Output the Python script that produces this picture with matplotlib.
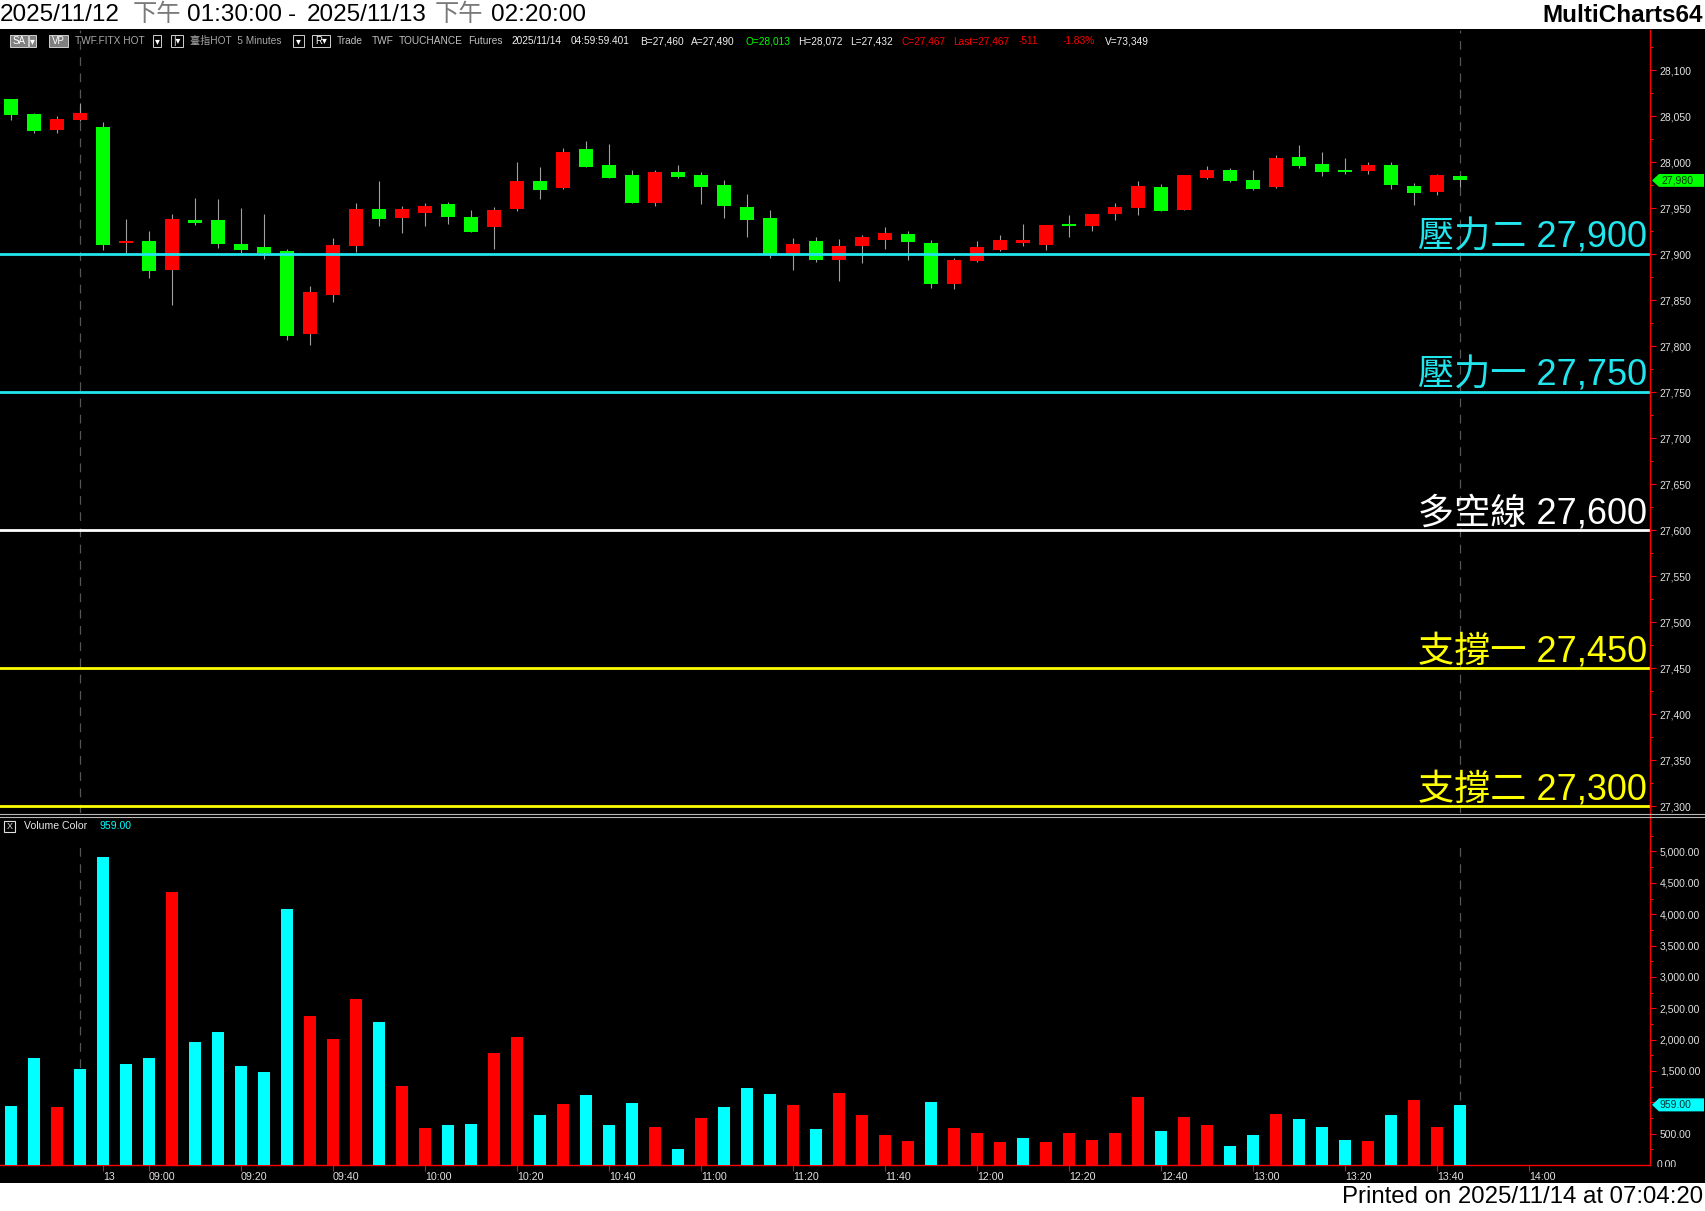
import numpy as np
import matplotlib
matplotlib.use('Agg')
import matplotlib.pyplot as plt
from matplotlib.patches import Rectangle, Polygon
from matplotlib.lines import Line2D
from matplotlib.transforms import blended_transform_factory

plt.rcParams['font.family'] = ['Liberation Sans', 'Noto Sans CJK TC', 'DejaVu Sans']

# ---- data (5 minute bars, 11/12 13:30 .. 11/13 13:45) ----
opens = [28068, 28052, 28035, 28046, 28038, 27912, 27914, 27883, 27937, 27937,
         27911, 27908, 27903, 27813, 27855, 27909, 27949, 27939, 27945, 27954,
         27940, 27929, 27949, 27979, 27972, 28014, 27997, 27986, 27955, 27989,
         27986, 27975, 27951, 27939, 27900, 27914, 27894, 27909, 27915, 27922,
         27912, 27867, 27892, 27904, 27912, 27910, 27933, 27930, 27944, 27950,
         27973, 27948, 27983, 27991, 27980, 27973, 28005, 27998, 27991, 27990,
         27997, 27974, 27967, 27985]
highs = [28068, 28053, 28050, 28064, 28044, 27938, 27925, 27944, 27961, 27960,
         27950, 27944, 27905, 27865, 27917, 27955, 27979, 27952, 27955, 27957,
         27948, 27951, 28000, 27995, 28015, 28023, 28020, 27991, 27991, 27997,
         27989, 27980, 27965, 27948, 27917, 27919, 27916, 27921, 27929, 27925,
         27915, 27896, 27914, 27921, 27933, 27932, 27942, 27944, 27955, 27979,
         27976, 27986, 27996, 27994, 27991, 28008, 28019, 28011, 28004, 28000,
         28000, 27977, 27987, 27986]
lows = [28046, 28031, 28032, 28045, 27904, 27901, 27874, 27845, 27931, 27906,
        27901, 27895, 27807, 27801, 27848, 27902, 27930, 27923, 27930, 27933,
        27924, 27905, 27947, 27960, 27971, 27995, 27983, 27955, 27952, 27983,
        27954, 27939, 27919, 27896, 27883, 27891, 27871, 27890, 27905, 27894,
        27863, 27862, 27891, 27903, 27909, 27904, 27919, 27925, 27937, 27942,
        27947, 27948, 27982, 27978, 27970, 27972, 27994, 27985, 27987, 27987,
        27971, 27953, 27964, 27973]
closes = [28051, 28034, 28047, 28053, 27910, 27914, 27882, 27938, 27934, 27911,
          27904, 27901, 27811, 27859, 27910, 27949, 27938, 27949, 27952, 27940,
          27924, 27948, 27979, 27970, 28011, 27995, 27983, 27955, 27989, 27984,
          27973, 27952, 27937, 27900, 27911, 27894, 27909, 27919, 27923, 27913,
          27867, 27894, 27908, 27915, 27915, 27932, 27930, 27944, 27951, 27974,
          27947, 27986, 27991, 27979, 27971, 28004, 27996, 27989, 27990, 27997,
          27975, 27966, 27986, 27980]
volumes = [940, 1705, 925, 1530, 4905, 1610, 1705, 4355, 1965, 2120,
           1580, 1485, 4085, 2380, 2010, 2650, 2280, 1260, 590, 640,
           655, 1785, 2045, 800, 970, 1115, 640, 990, 605, 255,
           750, 925, 1230, 1135, 955, 570, 1145, 795, 475, 380,
           1000, 585, 505, 360, 425, 360, 505, 395, 505, 1080,
           535, 760, 635, 300, 475, 810, 730, 600, 395, 380,
           795, 1030, 600, 959]
# 1 = red volume bar, 0 = cyan volume bar
vol_red = [0, 0, 1, 0, 0, 0, 0, 1, 0, 0, 0, 0, 0, 1, 1, 1, 0, 1, 1, 0,
           0, 1, 1, 0, 1, 0, 0, 0, 1, 0, 1, 0, 0, 0, 1, 0, 1, 1, 1, 1,
           0, 1, 1, 1, 0, 1, 1, 1, 1, 1, 0, 1, 1, 0, 0, 1, 0, 0, 0, 1,
           0, 1, 1, 0]

levels = [27900, 27750, 27600, 27450, 27300]
level_names = ['壓力二', '壓力一', '多空線', '支撐一', '支撐二']
level_colors = ['#22E6EE', '#22E6EE', '#FFFFFF', '#FFFF00', '#FFFF00']

tick_idx = [4, 6, 10, 14, 18, 22, 26, 30, 34, 38, 42, 46, 50, 54, 58, 62, 66]
tick_labels = ['13', '09:00', '09:20', '09:40', '10:00', '10:20', '10:40', '11:00', '11:20',
               '11:40', '12:00', '12:20', '12:40', '13:00', '13:20', '13:40', '14:00']
session_marks = [3, 63]
last_price = 27980
last_volume = 959

W, H = 1705, 1211


def fx(x):
    return x / W


def fy(y):
    return 1 - y / H


fig = plt.figure(figsize=(W / 100, H / 100), dpi=100, facecolor='black')
ax = fig.add_axes([0, fy(813), fx(1650), (813 - 30) / H])
axv = fig.add_axes([0, fy(1165), fx(1650), (1165 - 817) / H])

x = np.arange(len(opens))
o = np.array(opens, float)
c = np.array(closes, float)
hi = np.array(highs, float)
lo = np.array(lows, float)

for a in (ax, axv):
    a.set_facecolor('black')
    a.set_xlim(-0.478, 71.26)
    for s in a.spines.values():
        s.set_visible(False)

# ---- candles ----
ax.set_ylim(27292.4, 28143.5)
ax.vlines(x, lo, hi, color='#A0A0A0', lw=0.8, zorder=2)
body_h = np.maximum(np.abs(c - o), 2.5)
body_b = (o + c) / 2 - body_h / 2
body_col = np.where(c > o, '#FF0000', '#00FF00')
ax.bar(x, body_h, bottom=body_b, width=0.57, color=body_col, linewidth=0, zorder=3)

for xm in session_marks:
    ax.axvline(xm, color='#555555', lw=0.9, ls=(0, (7, 6)), zorder=1)

trans_lbl = blended_transform_factory(ax.transAxes, ax.transData)
for lv, name, col in zip(levels, level_names, level_colors):
    ax.axhline(lv, color=col, lw=2.0, zorder=4)
    ax.text(1647 / 1650, lv + 7.6, f'{name} {lv:,}', transform=trans_lbl, ha='right',
            va='baseline', color=col, fontsize=26, zorder=5)

ax.set_xticks([])
ax.yaxis.tick_right()
ax.set_yticks(np.arange(27300, 28101, 50))
ax.set_yticklabels([f'{v:,}' for v in range(27300, 28101, 50)])
ax.set_yticks(np.arange(27300, 28126, 25), minor=True)
ax.tick_params(axis='y', which='major', colors='#FF0000', labelcolor='#E0E0E0',
               length=4, width=0.8, pad=3, labelsize=7.5)
ax.tick_params(axis='y', which='minor', colors='#FF0000', length=2, width=0.8)

# ---- volume ----
axv.set_ylim(0, 5550)
vcol = ['#FF0000' if r else '#00FFFF' for r in vol_red]
axv.bar(x, volumes, width=0.48, color=vcol, linewidth=0, zorder=3)
for xm in session_marks:
    axv.axvline(xm, ymax=0.93, color='#555555', lw=0.9, ls=(0, (7, 6)), zorder=1)
axv.spines['bottom'].set_visible(True)
axv.spines['bottom'].set_color('#FF0000')
axv.spines['bottom'].set_linewidth(1.0)
axv.yaxis.tick_right()
vt = list(range(500, 5001, 500))
axv.set_yticks(vt)
# the 1,000 label sits under the last-volume marker, as in the reference
axv.set_yticklabels(['' if v == 1000 else f'{v:,.2f}' for v in vt])
axv.set_yticks(np.arange(250, 5300, 250), minor=True)
axv.tick_params(axis='y', which='major', colors='#FF0000', labelcolor='#E0E0E0',
                length=4, width=0.8, pad=3, labelsize=7.5)
axv.tick_params(axis='y', which='minor', colors='#FF0000', length=2, width=0.8)
axv.set_xticks(tick_idx)
axv.set_xticklabels(tick_labels, ha='left')
axv.tick_params(axis='x', colors='#FF0000', labelcolor='#E0E0E0', length=4, width=0.8,
                pad=1, labelsize=7.7)

# "0.00" label, cut in half by the bottom strip
fig.text(fx(1657), fy(1165), '0.00', color='#E0E0E0', fontsize=7.5, va='center')
fig.add_artist(Rectangle((fx(1651), fy(1183)), (W - 1651) / W, (1183 - 1167) / H,
                         transform=fig.transFigure, facecolor='black', edgecolor='none', zorder=4))

# axis line + panel separator
fig.add_artist(Line2D([fx(1650), fx(1650)], [fy(30), fy(1165)], color='#FF0000', lw=1.0))
for ys in (814, 817):
    fig.add_artist(Line2D([0, 1], [fy(ys), fy(ys)], color='#B8B8B8', lw=0.8))

# last value markers
tp = blended_transform_factory(fig.transFigure, ax.transData)
fig.add_artist(Polygon([(fx(1652), last_price), (fx(1659), last_price + 7), (fx(1704), last_price + 7),
                        (fx(1704), last_price - 7), (fx(1659), last_price - 7)],
                       closed=True, transform=tp, facecolor='#00FF00', edgecolor='none'))
fig.text(fx(1661), last_price, f'{last_price:,}', transform=tp, color='#003300', fontsize=7.5,
         va='center')
tv = blended_transform_factory(fig.transFigure, axv.transData)
fig.add_artist(Polygon([(fx(1652), last_volume), (fx(1659), last_volume + 104), (fx(1704), last_volume + 104),
                        (fx(1704), last_volume - 104), (fx(1659), last_volume - 104)],
                       closed=True, transform=tv, facecolor='#00FFFF', edgecolor='none'))
fig.text(fx(1660), last_volume, f'{last_volume:.2f}', transform=tv, color='#003333',
         fontsize=7.5, va='center')

# volume header
fig.add_artist(Rectangle((fx(4), fy(832)), 11 / W, 11 / H, transform=fig.transFigure,
                         facecolor='black', edgecolor='#E0E0E0', lw=0.8))
fig.text(fx(9.5), fy(826.5), 'X', color='#E0E0E0', fontsize=6.5, ha='center', va='center')
fig.text(fx(24), fy(826), 'Volume Color', color='#E8E8E8', fontsize=7.6, va='center')
fig.text(fx(100), fy(826), f'{last_volume:.2f}', color='#00FFFF', fontsize=7.6, va='center')

# ---- header / footer bands ----
fig.add_artist(Rectangle((0, fy(29)), 1, 29 / H, transform=fig.transFigure,
                         facecolor='white', edgecolor='none', zorder=0.5))
fig.add_artist(Rectangle((0, 0), 1, (H - 1183) / H, transform=fig.transFigure,
                         facecolor='white', edgecolor='none', zorder=4.5))
for xp, s, col in [(0, '2025/11/12', 'black'), (133, '下午', '#7A7A7A'), (187, '01:30:00', 'black'),
                   (288, '-', 'black'), (307, '2025/11/13', 'black'), (435, '下午', '#7A7A7A'),
                   (491, '02:20:00', 'black')]:
    fig.text(fx(xp), fy(15), s, color=col, fontsize=17.5, va='center')
fig.text(fx(1703), fy(15), 'MultiCharts64', color='black', fontsize=17.5, fontweight='bold',
         ha='right', va='center')
fig.text(fx(1703), fy(1197), 'Printed on 2025/11/14 at 07:04:20', color='black', fontsize=17.3,
         ha='right', va='center', zorder=5)

# ---- info bar ----
for x0, x1, face, s in [(10, 28, '#7F7F7F', 'SA'), (29, 36, '#7F7F7F', '▾'), (49, 68, '#7F7F7F', 'VP'),
                        (153, 161, 'black', '▾'), (171, 183, 'black', '|▾'), (293, 304, 'black', '▾'),
                        (312, 330, 'black', 'R▾')]:
    fig.add_artist(Rectangle((fx(x0), fy(47)), (x1 - x0) / W, 12 / H, transform=fig.transFigure,
                             facecolor=face, edgecolor='#D0D0D0', lw=0.7))
    fig.text(fx((x0 + x1) / 2), fy(41), s, color='white', fontsize=7, ha='center', va='center')
for xp, s, col in [(75, 'TWF.FITX HOT', '#A8A8A8'), (190, '臺指HOT  5 Minutes', '#A8A8A8'),
                   (337, 'Trade', '#C0C0C0'), (372, 'TWF', '#C0C0C0'), (399, 'TOUCHANCE', '#C0C0C0'),
                   (468, 'Futures', '#C0C0C0'), (511, '2025/11/14', '#F0F0F0'),
                   (571, '04:59:59.401', '#F0F0F0'), (640, 'B=27,460', '#F0F0F0'),
                   (691, 'A=27,490', '#F0F0F0'), (746, 'O=28,013', '#00FF00'),
                   (798, 'H=28,072', '#F0F0F0'), (850, 'L=27,432', '#F0F0F0'),
                   (901, 'C=27,467', '#FF0000'), (953, 'Last=27,467', '#FF0000'),
                   (1019, '-511', '#FF0000'), (1063, '-1.83%', '#FF0000'), (1105, 'V=73,349', '#F0F0F0')]:
    fig.text(fx(xp), fy(41), s, color=col, fontsize=7.3, va='center')

fig.savefig('out.png', dpi=100, facecolor='black')
